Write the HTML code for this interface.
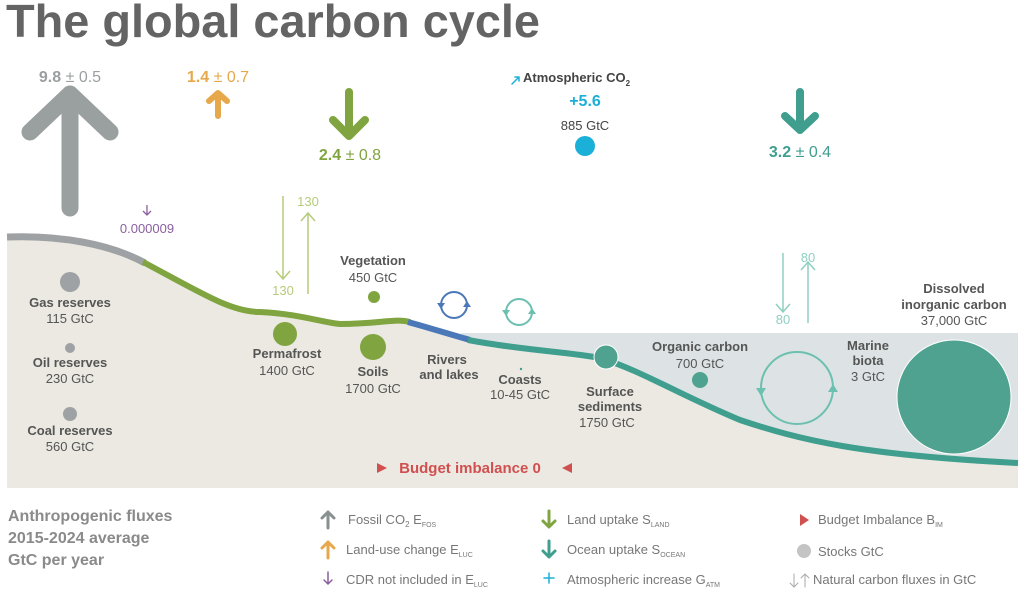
<!DOCTYPE html>
<html><head><meta charset="utf-8"><style>
html,body{margin:0;padding:0;background:#fff;}
svg{display:block;font-family:"Liberation Sans",Arial,sans-serif;}
.b{font-weight:bold;}
</style></head><body>
<svg width="1023" height="600" viewBox="0 0 1023 600" xmlns="http://www.w3.org/2000/svg">
<text x="6" y="37" font-size="46" font-weight="bold" fill="#646464" textLength="534" lengthAdjust="spacingAndGlyphs">The global carbon cycle</text>

<!-- land -->
<path d="M7,234 C60,232 110,242 145,261 C200,290 230,312 260,312 C300,314 320,322 340,324 C380,324 395,318 410,322 C430,328 445,333 470,340 C520,350 570,352 600,358 C640,370 680,395 740,420 C800,440 860,455 1018,462 L1018,488 L7,488 Z" fill="#ece9e2"/>
<!-- water -->
<path d="M460,333 L1018,333 L1018,462 C860,455 800,440 740,420 C680,395 640,370 600,358 C570,352 520,350 470,340 Z" fill="#dde3e5"/>
<!-- surface lines -->
<path d="M7,237 C60,235 110,244 145,263" stroke="#9ea2a4" stroke-width="7" fill="none"/>
<path d="M143,262 C200,292 230,312 260,312 C300,314 320,322 340,324 C380,324 395,318 410,322" stroke="#7fa440" stroke-width="6" fill="none"/>
<path d="M408,322 C430,328 445,333 470,340" stroke="#4a78b8" stroke-width="6" fill="none"/>
<path d="M468,340 C520,350 570,352 600,358 C640,370 680,395 740,420 C800,440 860,455 1018,463" stroke="#3f9e8e" stroke-width="6" fill="none"/>

<!-- top fluxes -->
<g stroke-linecap="round" stroke-linejoin="round" fill="none">
<path d="M70,208 L70,94 M30,132 L70,94 L110,132" stroke="#9a9fa0" stroke-width="17"/>
<path d="M218,116 L218,93 M209,101 L218,93 L227,101" stroke="#e6a84a" stroke-width="6"/>
<path d="M349,92 L349,136 M333,120 L349,136 L365,120" stroke="#7fa440" stroke-width="8"/>
<path d="M800,92 L800,130 M785,116 L800,130 L815,116" stroke="#3f9e8e" stroke-width="8"/>
<path d="M512,84 L519,77 M515,77 L519,77 L519,81" stroke="#1ab0d8" stroke-width="1.5"/>
</g>
<text x="70" y="82" font-size="16" fill="#9a9fa0" text-anchor="middle"><tspan class="b">9.8</tspan> ± 0.5</text>
<text x="218" y="82" font-size="16" fill="#e6a84a" text-anchor="middle"><tspan class="b">1.4</tspan> ± 0.7</text>
<text x="350" y="160" font-size="16" fill="#7fa440" text-anchor="middle"><tspan class="b">2.4</tspan> ± 0.8</text>
<text x="800" y="157" font-size="16" fill="#3f9e8e" text-anchor="middle"><tspan class="b">3.2</tspan> ± 0.4</text>
<text x="523" y="82" font-size="13" font-weight="bold" fill="#444">Atmospheric CO<tspan font-size="8" dy="4">2</tspan></text>
<text x="585" y="106" font-size="16" font-weight="bold" fill="#1ab0d8" text-anchor="middle">+5.6</text>
<text x="585" y="130" font-size="13" fill="#444" text-anchor="middle">885 GtC</text>
<circle cx="585" cy="146" r="10" fill="#1ab0d8"/>

<!-- purple CDR -->
<path d="M147,205 L147,215 M143,211 L147,215 L151,211" stroke="#8b5fa0" stroke-width="1.3" fill="none"/>
<text x="147" y="233" font-size="13" fill="#8b5fa0" text-anchor="middle">0.000009</text>

<!-- 130 -->
<g stroke="#b5cc7a" stroke-width="1.5" fill="none">
<path d="M283,196 L283,279 M276,271 L283,279 L290,271"/>
<path d="M308,294 L308,213 M301,221 L308,213 L315,221"/>
</g>
<text x="283" y="295" font-size="13" fill="#b5cc7a" text-anchor="middle">130</text>
<text x="308" y="206" font-size="13" fill="#b5cc7a" text-anchor="middle">130</text>
<!-- 80 -->
<g stroke="#8fcfc2" stroke-width="1.5" fill="none">
<path d="M783,253 L783,312 M776,304 L783,312 L790,304"/>
<path d="M808,323 L808,262 M801,270 L808,262 L815,270"/>
</g>
<text x="783" y="324" font-size="13" fill="#8fcfc2" text-anchor="middle">80</text>
<text x="808" y="262" font-size="13" fill="#8fcfc2" text-anchor="middle">80</text>

<!-- cycles -->
<g fill="none" stroke-width="2">
<circle cx="454" cy="305" r="13" stroke="#4a78b8"/>
<circle cx="519" cy="312" r="13" stroke="#6cc0b0"/>
<circle cx="797" cy="388" r="36" stroke="#6cc0b0"/>
</g>
<g fill="#4a78b8"><path d="M437,303 L445,303 L441,309Z"/><path d="M463,307 L471,307 L467,301Z"/></g>
<g fill="#6cc0b0"><path d="M502,310 L510,310 L506,316Z"/><path d="M528,314 L536,314 L532,308Z"/>
<path d="M756,388 L766,388 L761,396Z"/><path d="M828,392 L838,392 L833,384Z"/></g>

<!-- stocks -->
<g font-size="13" fill="#555" text-anchor="middle">
<circle cx="70" cy="282" r="10" fill="#9ea2a4"/>
<text x="70" y="307" class="b">Gas reserves</text><text x="70" y="323">115 GtC</text>
<circle cx="70" cy="348" r="5" fill="#9ea2a4"/>
<text x="70" y="367" class="b">Oil reserves</text><text x="70" y="383">230 GtC</text>
<circle cx="70" cy="414" r="7" fill="#9ea2a4"/>
<text x="70" y="435" class="b">Coal reserves</text><text x="70" y="451">560 GtC</text>
<text x="373" y="265" class="b">Vegetation</text><text x="373" y="282">450 GtC</text>
<circle cx="374" cy="297" r="6" fill="#7fa440"/>
<circle cx="285" cy="334" r="12" fill="#7fa440"/>
<text x="287" y="358" class="b">Permafrost</text><text x="287" y="375">1400 GtC</text>
<circle cx="373" cy="347" r="13" fill="#7fa440"/>
<text x="373" y="376" class="b">Soils</text><text x="373" y="393">1700 GtC</text>
<text x="447" y="364" class="b">Rivers</text><text x="449" y="379" class="b">and lakes</text>
<circle cx="521" cy="369" r="1.2" fill="#3f9e8e"/>
<text x="520" y="384" class="b">Coasts</text><text x="520" y="399">10-45 GtC</text>
<circle cx="606" cy="357" r="12" fill="#4fa190" stroke="#fff" stroke-width="1"/>
<text x="610" y="396" class="b">Surface</text><text x="610" y="411" class="b">sediments</text><text x="607" y="427">1750 GtC</text>
<text x="700" y="351" class="b">Organic carbon</text><text x="700" y="368">700 GtC</text>
<circle cx="700" cy="380" r="8" fill="#4fa190"/>
<text x="868" y="350" class="b">Marine</text><text x="868" y="365" class="b">biota</text><text x="868" y="381">3 GtC</text>
<text x="954" y="293" class="b">Dissolved</text><text x="954" y="309" class="b">inorganic carbon</text><text x="954" y="325">37,000 GtC</text>
<circle cx="954" cy="397" r="57" fill="#4fa190" stroke="#fff" stroke-width="1"/>
</g>
<text x="470" y="473" font-size="15" font-weight="bold" fill="#d05050" text-anchor="middle">Budget imbalance 0</text>
<path d="M377,463 L387,468 L377,473Z M572,463 L562,468 L572,473Z" fill="#d05050"/>

<!-- legend -->
<g font-size="16" font-weight="bold" fill="#8a8a8a">
<text x="8" y="521">Anthropogenic fluxes</text>
<text x="8" y="543">2015-2024 average</text>
<text x="8" y="565">GtC per year</text>
</g>
<g stroke-linecap="round" stroke-linejoin="round" fill="none">
<path d="M328,528 L328,512 M322,518 L328,512 L334,518" stroke="#8a8f90" stroke-width="3"/>
<path d="M328,558 L328,542 M322,548 L328,542 L334,548" stroke="#e6a84a" stroke-width="3"/>
<path d="M328,572 L328,584 M324,580 L328,584 L332,580" stroke="#8b5fa0" stroke-width="1.5"/>
<path d="M549,511 L549,527 M543,521 L549,527 L555,521" stroke="#7fa440" stroke-width="3"/>
<path d="M549,541 L549,557 M543,551 L549,557 L555,551" stroke="#3f9e8e" stroke-width="3"/>
<path d="M549,573 L549,583 M544,578 L554,578" stroke="#1ab0d8" stroke-width="1.5"/>
<path d="M794,574 L794,587 M790,583 L794,587 L798,583 M805,587 L805,574 M801,578 L805,574 L809,578" stroke="#aaa" stroke-width="1"/>
</g>
<path d="M800,514 L809,520 L800,526Z" fill="#d05050"/>
<circle cx="804" cy="551" r="7" fill="#c4c4c4"/>
<g font-size="13" fill="#777">
<text x="348" y="524">Fossil CO<tspan font-size="8" dy="3">2</tspan><tspan dy="-3"> E</tspan><tspan font-size="7" dy="3">FOS</tspan></text>
<text x="346" y="554">Land-use change E<tspan font-size="7" dy="3">LUC</tspan></text>
<text x="346" y="584">CDR not included in E<tspan font-size="7" dy="3">LUC</tspan></text>
<text x="567" y="524">Land uptake S<tspan font-size="7" dy="3">LAND</tspan></text>
<text x="567" y="554">Ocean uptake S<tspan font-size="7" dy="3">OCEAN</tspan></text>
<text x="567" y="584">Atmospheric increase G<tspan font-size="7" dy="3">ATM</tspan></text>
<text x="818" y="524">Budget Imbalance B<tspan font-size="7" dy="3">IM</tspan></text>
<text x="818" y="556">Stocks GtC</text>
<text x="813" y="584">Natural carbon fluxes in GtC</text>
</g>
</svg>
</body></html>
